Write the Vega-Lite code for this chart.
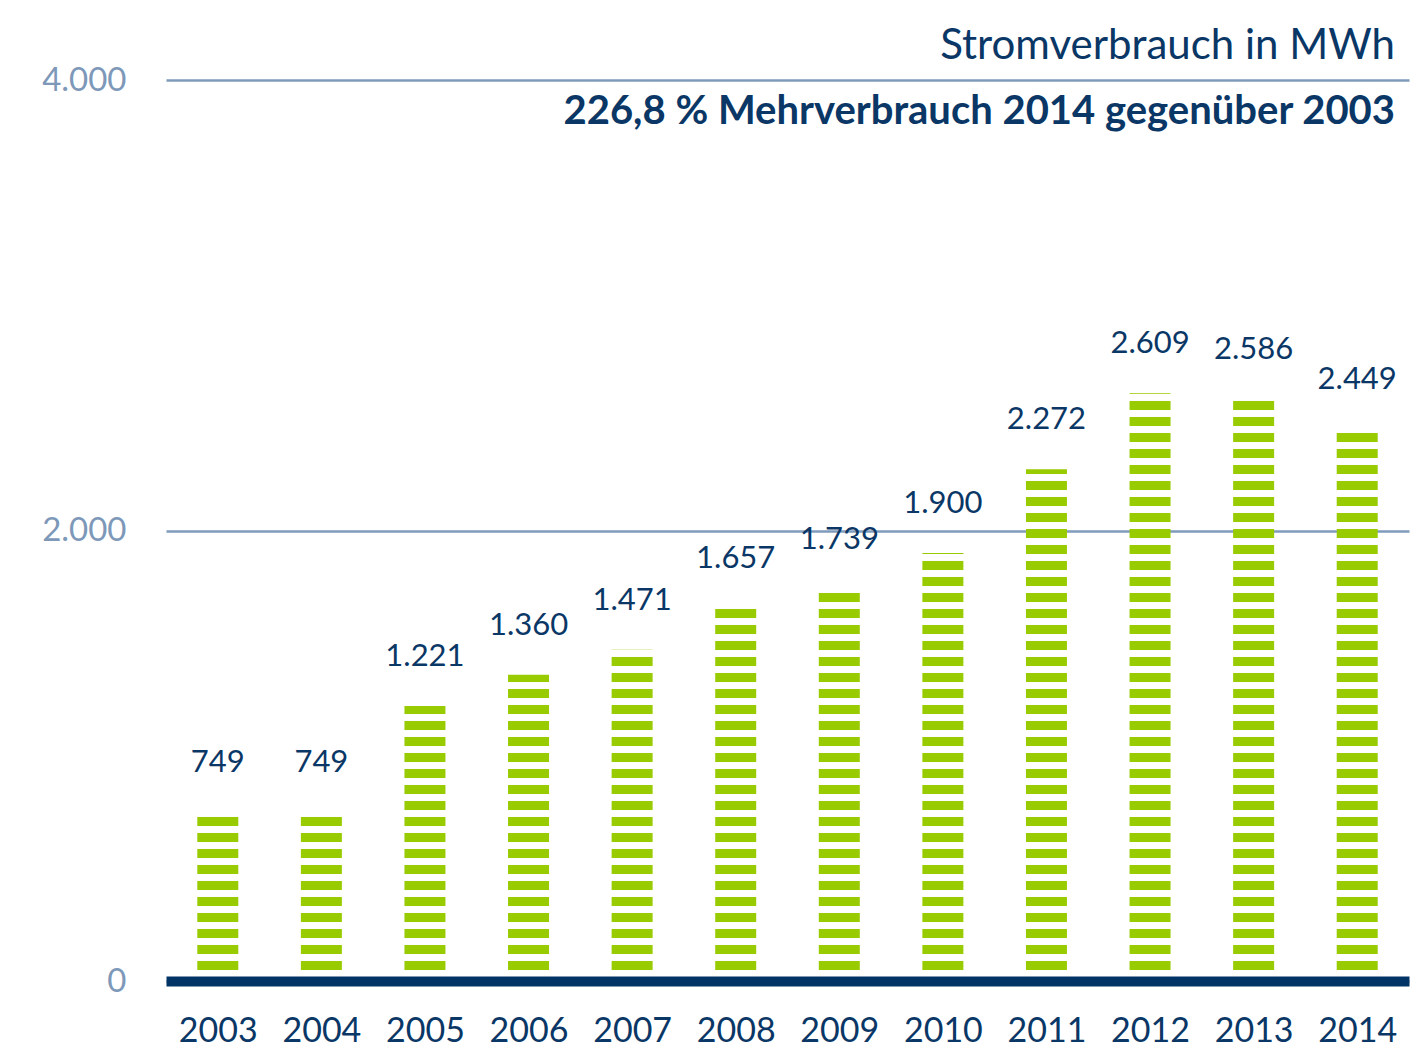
{
  "$schema": "https://vega.github.io/schema/vega-lite/v6.json",
  "width": 1243,
  "height": 901,
  "autosize": {"type": "none"},
  "padding": {"left": 166, "top": 80, "right": 3, "bottom": 68},
  "background": "white",
  "config": {
    "locale": {"number": {"decimal": ",", "thousands": ".", "grouping": [3], "currency": ["", "\u00a0€"]}},
    "view": {"stroke": null},
    "font": "Lato"
  },
  "title": {
    "text": "Stromverbrauch in MWh",
    "subtitle": "226,8 % Mehrverbrauch 2014 gegenüber 2003",
    "anchor": "end",
    "orient": "top",
    "offset": -69,
    "fontSize": 42,
    "fontWeight": "normal",
    "color": "#0a3766",
    "font": "Lato",
    "subtitleFont": "Lato",
    "subtitleFontSize": 40,
    "subtitleFontWeight": "bold",
    "subtitleColor": "#0a3766",
    "subtitlePadding": 24,
    "dx": -14
  },
  "data": {
    "values": [
      {"year": "2003", "value": 749},
      {"year": "2004", "value": 749},
      {"year": "2005", "value": 1221},
      {"year": "2006", "value": 1360},
      {"year": "2007", "value": 1471},
      {"year": "2008", "value": 1657},
      {"year": "2009", "value": 1739},
      {"year": "2010", "value": 1900},
      {"year": "2011", "value": 2272},
      {"year": "2012", "value": 2609},
      {"year": "2013", "value": 2586},
      {"year": "2014", "value": 2449}
    ]
  },
  "layer": [
    {
      "mark": {
        "type": "rule",
        "strokeWidth": 41,
        "strokeCap": "butt",
        "strokeDash": [9, 7],
        "strokeDashOffset": 5,
        "color": "#99cc00"
      },
      "encoding": {
        "x": {
          "field": "year",
          "type": "ordinal",
          "scale": {"type": "point", "padding": 0.5},
          "axis": {
            "title": null,
            "domain": true,
            "domainColor": "#003466",
            "domainWidth": 10,
            "ticks": false,
            "tickSize": 0,
            "labelAngle": 0,
            "labelFontSize": 34,
            "labelColor": "#0a3766",
            "labelBaseline": "alphabetic",
            "labelPadding": 60,
            "zindex": 1
          }
        },
        "y": {
          "datum": 0,
          "type": "quantitative",
          "scale": {"domain": [0, 4000], "nice": false},
          "axis": {
            "title": null,
            "values": [0, 2000, 4000],
            "format": ",d",
            "grid": true,
            "gridColor": "#7f9bbb",
            "gridWidth": 2.5,
            "domain": false,
            "ticks": false,
            "tickSize": 0,
            "labelFontSize": 33,
            "labelColor": "#7d98b8",
            "labelPadding": 40,
            "zindex": 0
          }
        },
        "y2": {"field": "value", "type": "quantitative"}
      }
    },
    {
      "mark": {
        "type": "text",
        "dy": -49,
        "baseline": "middle",
        "fontSize": 31,
        "color": "#0a3766"
      },
      "encoding": {
        "x": {"field": "year", "type": "ordinal"},
        "y": {"field": "value", "type": "quantitative"},
        "text": {"field": "value", "type": "quantitative", "format": ",d"}
      }
    }
  ]
}
